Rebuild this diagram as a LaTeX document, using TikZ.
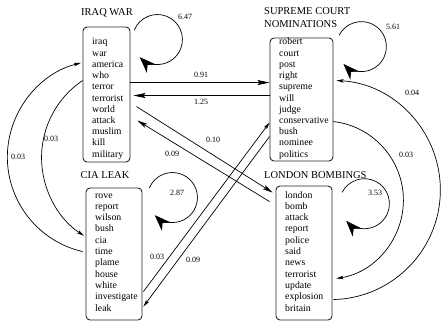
\documentclass[tikz,border=0pt]{standalone}
\usepackage{fontspec}
\setmainfont{Liberation Serif}
\usetikzlibrary{arrows.meta,calc}
\tikzset{
  topicbox/.style={draw=black!85, rounded corners=4pt, line width=0.9pt, inner sep=0pt},
  word/.style={font=\rmfamily\fontsize{9.8}{11.3}\selectfont, inner sep=0pt, anchor=base west},
  ttl/.style={font=\rmfamily\fontsize{10.5}{13}\selectfont, inner sep=0pt},
  lbl/.style={font=\rmfamily\fontsize{8}{9}\selectfont, inner sep=0pt},
  conn/.style={line width=0.7pt},
  looptip/.style={conn, -{Stealth[length=16pt,width=12pt,inset=5pt]}},
  midtip/.style={conn, -{Stealth[length=12pt,width=5pt,inset=2pt]}},
  diagtip/.style={conn, -{Stealth[length=10pt,width=4.5pt,inset=2pt]}},
  smalltip/.style={conn, -{Stealth[length=7pt,width=3.5pt,inset=1.5pt]}},
}
\begin{document}
\begin{tikzpicture}[x=1pt,y=-1pt]
\useasboundingbox (0,0) rectangle (441,321);
% boxes
\node[topicbox, minimum width=47pt, minimum height=135pt] (iraq) at (106.5,94.5) {};
\node[topicbox, minimum width=63pt, minimum height=123pt] (supreme) at (301.5,99.5) {};
\node[topicbox, minimum width=56pt, minimum height=132pt] (cia) at (114,254) {};
\node[topicbox, minimum width=56pt, minimum height=134pt] (london) at (304,253) {};
% titles
\node[ttl, anchor=base] (tiraq) at (107,15.5) {IRAQ WAR};
\node[ttl, anchor=base west] (tsup1) at (264,15) {SUPREME COURT};
\node[ttl, anchor=base west] (tsup2) at (264,28) {NOMINATIONS};
\node[ttl, anchor=base] (tcia) at (105,178.5) {CIA LEAK};
\node[ttl, anchor=base west] (tlon) at (264,178.5) {LONDON BOMBINGS};
% words
\foreach \w [count=\i] in {iraq,war,america,who,terror,terrorist,world,attack,muslim,kill,military}
  \node[word] (iw\i) at (92,{45+11.2*(\i-1)}) {\w};
\foreach \w [count=\i] in {robert,court,post,right,supreme,will,judge,conservative,bush,nominee,politics}
  \node[word] (sw\i) at (279,{45+11.2*(\i-1)}) {\w};
\foreach \w [count=\i] in {rove,report,wilson,bush,cia,time,plame,house,white,investigate,leak}
  \node[word] (cw\i) at (95,{198+11.3*(\i-1)}) {\w};
\foreach \w [count=\i] in {london,bomb,attack,report,police,said,news,terrorist,update,explosion,britain}
  \node[word] (lw\i) at (285,{198+11.3*(\i-1)}) {\w};
% self loops
\draw[looptip] ($(iraq.north east)+(3.8,3.6)$) arc[start angle=202, end angle=495, radius=25];
\draw[looptip] ($(supreme.north east)+(5.7,-2.3)$) arc[start angle=207, end angle=496, radius=25];
\draw[looptip] ($(cia.north east)+(7,0.2)$) arc[start angle=203, end angle=495, radius=25];
\draw[looptip] ($(london.north east)+(9.7,6.8)$) arc[start angle=207, end angle=497, radius=25];
\node[lbl] (l647) at (185,17) {6.47};
\node[lbl] (l561) at (393,27) {5.61};
\node[lbl] (l287) at (177,193) {2.87};
\node[lbl] (l353) at (375,193) {3.53};
% straight connectors
\draw[midtip] ($(iraq.north east)+(0,56)$) -- ($(supreme.north west)+(0,45)$);
\draw[midtip] ($(supreme.north west)+(0,58)$) -- ($(iraq.north east)+(3,69)$);
\draw[diagtip] ($(iraq.north east)+(6,80)$) -- ($(london.north west)+(-3,7)$);
\draw[diagtip] ($(london.north west)+(-6,16)$) -- ($(iraq.north east)+(7,94)$);
\draw[smalltip] ($(cia.north east)+(1,104)$) -- ($(supreme.north west)+(0,85)$);
\draw[smalltip] ($(supreme.north west)+(0,99)$) -- ($(cia.north east)+(1,119)$);
\node[lbl] (l091) at (201,75) {0.91};
\node[lbl] (l125) at (201,102) {1.25};
\node[lbl] (l010) at (213,140) {0.10};
\node[lbl] (l009a) at (172,154) {0.09};
\node[lbl] (l003c) at (157,257) {0.03};
\node[lbl] (l009b) at (193,260) {0.09};
% left curves
\draw[smalltip] ($(cia.north west)+(-3,64)$) arc[start angle=103, end angle=256, radius=97];
\draw[smalltip] ($(iraq.north west)+(0,54)$) arc[start angle=236, end angle=123, radius=93];
\node[lbl] (l003a) at (51,139) {0.03};
\node[lbl] (l003b) at (18,157) {0.03};
% right curves
\draw[smalltip] ($(london.north east)+(1,114)$) arc[start angle=88.6, end angle=-87, radius=109.6];
\draw[smalltip] ($(supreme.north east)+(0,84)$) arc[start angle=-83.3, end angle=81.2, radius=79.2];
\node[lbl] (l004) at (412,93) {0.04};
\node[lbl] (l003d) at (406,155) {0.03};
\end{tikzpicture}
\end{document}
